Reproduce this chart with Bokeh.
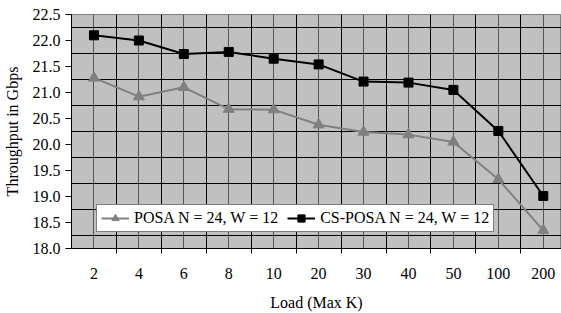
from bokeh.plotting import figure
from bokeh.models import FixedTicker, Range1d, Legend, LegendItem, NumeralTickFormatter
from bokeh.embed import file_html
from bokeh.resources import INLINE

loads = ["2", "4", "6", "8", "10", "20", "30", "40", "50", "100", "200"]
posa = [21.28, 20.92, 21.10, 20.68, 20.67, 20.38, 20.24, 20.19, 20.05, 19.33, 18.35]
cs_posa = [22.10, 22.00, 21.74, 21.78, 21.65, 21.54, 21.21, 21.19, 21.05, 20.26, 19.01]
y_ticks = [18.0, 18.5, 19.0, 19.5, 20.0, 20.5, 21.0, 21.5, 22.0, 22.5]
y_grid = [18.25, 18.75, 19.25, 19.75, 20.25, 20.75, 21.25, 21.75, 22.25]

xs = list(range(1, len(loads) + 1))
bounds = [i + 0.5 for i in xs[:-1]]

FONT = "Liberation Serif"
FS = "16px"

p = figure(width=561, height=313, output_backend="svg", toolbar_location=None,
           x_range=Range1d(0.5, 11.406), y_range=Range1d(18.0, 22.5),
           min_border_left=71, min_border_right=0, min_border_top=14, min_border_bottom=65)

p.background_fill_color = "#C0C0C0"
p.border_fill_color = "white"
p.outline_line_color = "#808080"

# x axis
p.xaxis.ticker = FixedTicker(ticks=xs, minor_ticks=bounds)
p.xaxis.major_label_overrides = {x: l for x, l in zip(xs, loads)}
p.xaxis.major_tick_line_color = None
p.xaxis.major_tick_out = 0
p.xaxis.major_tick_in = 0
p.xaxis.minor_tick_out = 5
p.xaxis.minor_tick_in = 0
p.xaxis.minor_tick_line_color = "black"
p.xaxis.axis_line_color = "black"
p.xaxis.major_label_standoff = 14
p.xaxis.axis_label = "Load (Max K)"
p.xaxis.axis_label_standoff = 12

# y axis
p.yaxis.ticker = FixedTicker(ticks=y_ticks, minor_ticks=y_grid)
p.yaxis.formatter = NumeralTickFormatter(format="0.0")
p.yaxis.major_tick_out = 6
p.yaxis.major_tick_in = 0
p.yaxis.minor_tick_line_color = None
p.yaxis.major_tick_line_color = "black"
p.yaxis.axis_line_color = "black"
p.yaxis.major_label_standoff = 5
p.yaxis.axis_label = "Throughput in Gbps"
p.yaxis.axis_label_standoff = 9

for ax in (p.xaxis, p.yaxis):
    ax.major_label_text_font = FONT
    ax.major_label_text_font_size = FS
    ax.major_label_text_color = "black"
    ax.axis_label_text_font = FONT
    ax.axis_label_text_font_size = FS
    ax.axis_label_text_font_style = "normal"
    ax.axis_label_text_color = "black"

# grids
p.xgrid.ticker = FixedTicker(ticks=xs, minor_ticks=bounds)
p.xgrid.grid_line_color = "#555555"
p.xgrid.grid_line_width = 1
p.xgrid.minor_grid_line_color = "#000000"
p.ygrid.ticker = FixedTicker(ticks=y_ticks, minor_ticks=y_grid)
p.ygrid.grid_line_color = None
p.ygrid.minor_grid_line_color = "#000000"

GRAY = "#808080"
l1 = p.line(xs, posa, line_color=GRAY, line_width=2)
m1 = p.scatter(xs, posa, marker="triangle", size=11, fill_color=GRAY, line_color=GRAY)
l2 = p.line(xs, cs_posa, line_color="black", line_width=2)
m2 = p.scatter(xs, cs_posa, marker="square", size=9, fill_color="black", line_color="black")

legend = Legend(items=[LegendItem(label="POSA N = 24, W = 12", renderers=[l1, m1]),
                       LegendItem(label="CS-POSA N = 24, W = 12", renderers=[l2, m2])],
                orientation="horizontal", location=(25, 16))
legend.label_text_font = FONT
legend.label_text_font_size = FS
legend.label_text_color = "black"
legend.border_line_color = "black"
legend.border_line_width = 1
legend.background_fill_color = "white"
legend.background_fill_alpha = 1
legend.padding = 4
legend.margin = 0
legend.spacing = 9
legend.glyph_width = 28
legend.glyph_height = 18
legend.label_height = 18
legend.label_standoff = 5
p.add_layout(legend, "center")

open("out.html", "w").write(file_html(p, INLINE))
